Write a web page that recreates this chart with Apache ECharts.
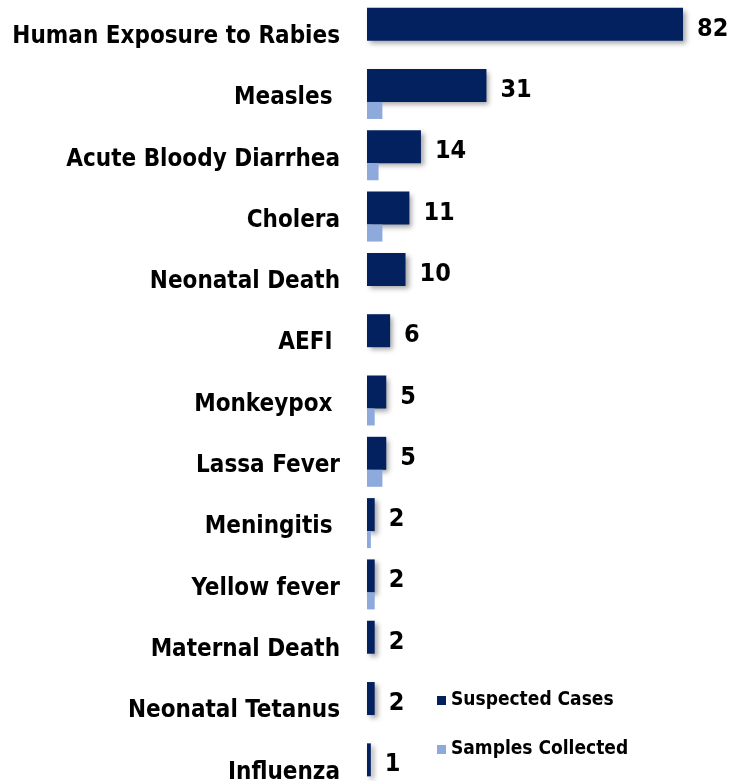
<!DOCTYPE html>
<html>
<head>
<meta charset="utf-8">
<script src="https://cdn.jsdelivr.net/npm/echarts@6/dist/echarts.min.js"></script>
<style>
  html, body { margin: 0; padding: 0; background: #ffffff; }
  #main { width: 729px; height: 781px; }
</style>
</head>
<body>
<div id="main"></div>
<script>
// categories, top to bottom
var diseases = ['Human Exposure to Rabies', 'Measles ', 'Acute Bloody Diarrhea', 'Cholera', 'Neonatal Death',
  'AEFI ', 'Monkeypox ', 'Lassa Fever', 'Meningitis ', 'Yellow fever', 'Maternal Death', 'Neonatal Tetanus', 'Influenza'];
var suspectedCases = [82, 31, 14, 11, 10, 6, 5, 5, 2, 2, 2, 2, 1];
var samplesCollected = [0, 4, 3, 4, 0, 0, 2, 4, 1, 2, 0, 0, 0];

var labelFont = '"DejaVu Sans Condensed", "Liberation Sans Narrow", Roboto, sans-serif';

var chart = echarts.init(document.getElementById('main'));
var option = {
  backgroundColor: '#ffffff',
  animation: false,
  // last row runs past the bottom edge, as in the original
  grid: { left: 367, right: 46, top: 2, height: 797, outerBoundsMode: 'none' },
  legend: {
    orient: 'vertical',
    left: 432,
    top: 686,
    itemGap: 30,
    itemWidth: 9,
    itemHeight: 9,
    icon: 'rect',
    textStyle: { fontFamily: labelFont, fontWeight: 'bold', fontSize: 19, color: '#000' },
    data: ['Suspected Cases', 'Samples Collected']
  },
  xAxis: {
    type: 'value',
    min: 0,
    max: 82,
    show: false
  },
  yAxis: {
    type: 'category',
    inverse: true,
    data: diseases,
    axisLine: { show: false },
    axisTick: { show: false },
    axisLabel: {
      margin: 27,
      formatter: function (v) { return '{n|' + v + '}'; },
      rich: {
        n: {
          padding: [8, 0, 0, 0],
          fontFamily: labelFont,
          fontWeight: 'bold',
          fontSize: 24,
          color: '#000'
        }
      }
    }
  },
  series: [
    {
      name: 'Suspected Cases',
      type: 'bar',
      data: suspectedCases,
      barWidth: 33,
      barGap: '0%',
      itemStyle: {
        color: '#03215f',
        shadowBlur: 5,
        shadowOffsetX: 3,
        shadowOffsetY: 3,
        shadowColor: 'rgba(0,0,0,0.35)'
      },
      label: {
        show: true,
        position: 'right',
        distance: 13,
        offset: [1, 5],
        fontFamily: labelFont,
        fontWeight: 'bold',
        fontSize: 25,
        color: '#000'
      }
    },
    {
      name: 'Samples Collected',
      type: 'bar',
      data: samplesCollected,
      barWidth: 17,
      itemStyle: { color: '#8eaadc' }
    }
  ]
};
chart.setOption(option);
</script>
</body>
</html>
